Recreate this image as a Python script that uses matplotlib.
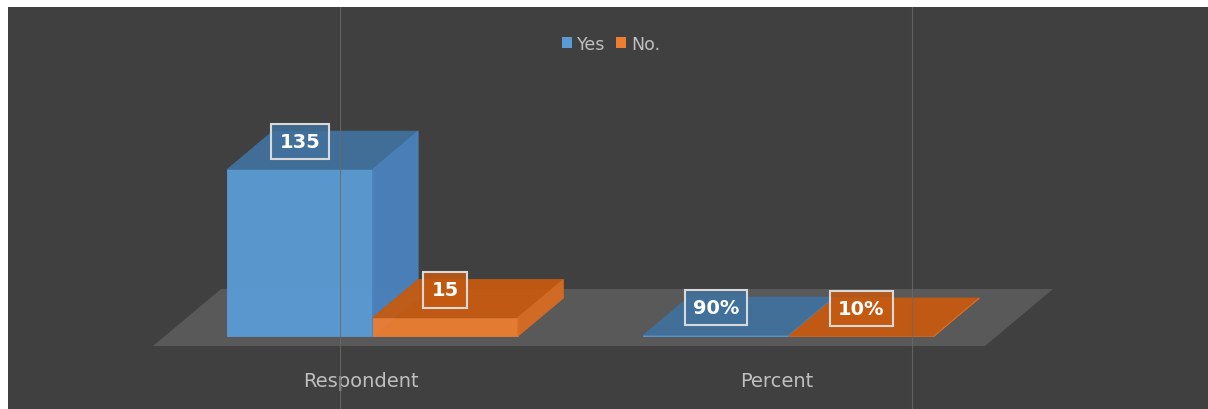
import numpy as np
import matplotlib
matplotlib.use('Agg')
import matplotlib.pyplot as plt
from matplotlib.patches import Polygon, Patch
from matplotlib.lines import Line2D
from matplotlib.colors import to_rgba

CATEGORIES = ['Respondent', 'Percent']
SERIES = ['Yes', 'No.']
YES_VALUES = [135, 0.90]
NO_VALUES = [15, 0.10]
YES_LABELS = ['135', '90%']
NO_LABELS = ['15', '10%']

BG = '#404040'
FLOOR = '#595959'
TEXT = '#bfbfbf'
# front / top / side shades for each series
SHADES = {
    'Yes': ('#5b9bd5', '#41719c', '#4a82bd'),
    'No.': ('#ed7d31', '#c55a11', '#d86c22'),
}

W, H, DPI = 1208, 410, 100
BAR_W = 0.349
DEPTH_PX = np.array([68.0, 57.0])   # screen shift across the full floor depth
BAR_Z = (0.17, 0.84)                # slice of the depth the bars occupy

fig = plt.figure(figsize=(W / DPI, H / DPI), dpi=DPI, facecolor='white')
ax = fig.add_axes([8 / W, 0, 1 - 8 / W, 1 - 8 / H])
ax.set_facecolor(BG)
ax.set_xlim(-0.8486, 2.036)
ax.set_ylim(-50.93, 274.05)
ax.set_xticks([])
ax.set_yticks([])
for s in ax.spines.values():
    s.set_visible(False)


def proj(x, y, z):
    """Oblique projection: data point (x, y) pushed back by depth z."""
    disp = ax.transData.transform((x, y)) + z * DEPTH_PX
    return ax.transData.inverted().transform(disp)


def draw_box(x0, x1, h, z0, z1, shades):
    front, top, side = shades
    faces = [
        ([proj(x0, 0, z0), proj(x1, 0, z0), proj(x1, h, z0), proj(x0, h, z0)], front),
        ([proj(x0, h, z0), proj(x1, h, z0), proj(x1, h, z1), proj(x0, h, z1)], top),
        ([proj(x1, 0, z0), proj(x1, 0, z1), proj(x1, h, z1), proj(x1, h, z0)], side),
    ]
    for pts, c in faces:
        ax.add_patch(Polygon(pts, closed=True, facecolor=c, edgecolor=c,
                             linewidth=0.6, alpha=0.95, zorder=3))


# floor
n = len(CATEGORIES)
floor = [proj(-0.5, 0, 0), proj(n - 0.5, 0, 0), proj(n - 0.5, 0, 1), proj(-0.5, 0, 1)]
ax.add_patch(Polygon(floor, closed=True, facecolor=FLOOR, edgecolor='none', zorder=1))

z0, z1 = BAR_Z
for i, cat in enumerate(CATEGORIES):
    for j, (name, vals, labs) in enumerate(zip(SERIES, [YES_VALUES, NO_VALUES],
                                               [YES_LABELS, NO_LABELS])):
        x0 = i - BAR_W + j * BAR_W
        x1 = x0 + BAR_W
        draw_box(x0, x1, vals[i], z0, z1, SHADES[name])
        ax.annotate(labs[i], xy=proj((x0 + x1) / 2, vals[i], z0),
                    xytext=(0, 20), textcoords='offset points',
                    ha='center', va='center', fontsize=14, fontweight='bold',
                    color='white', zorder=5,
                    bbox=dict(boxstyle='square,pad=0.42',
                              facecolor=to_rgba(SHADES[name][1], 0.85),
                              edgecolor='#d9d9d9', linewidth=1.5))
    ax.annotate(cat, xy=(i, 0), xytext=(0, -24.5), textcoords='offset points',
                ha='center', va='center', fontsize=14, color=TEXT)

handles = [Patch(facecolor=SHADES[s][0], edgecolor='none') for s in SERIES]
fig.legend(handles, SERIES, loc='center', bbox_to_anchor=(0.506, 0.89), ncol=2,
           frameon=False, fontsize=12.5, labelcolor=TEXT, handlelength=0.6,
           handleheight=0.6, handletextpad=0.3, columnspacing=0.6)

# faint vertical guide lines over the plot area
for xf in (340 / W, 912 / W):
    fig.add_artist(Line2D([xf, xf], [0, 1 - 8 / H], transform=fig.transFigure,
                          color='#6a6a6a', linewidth=0.8, alpha=0.8, zorder=10))

fig.savefig('out.png', dpi=DPI, facecolor=fig.get_facecolor())
